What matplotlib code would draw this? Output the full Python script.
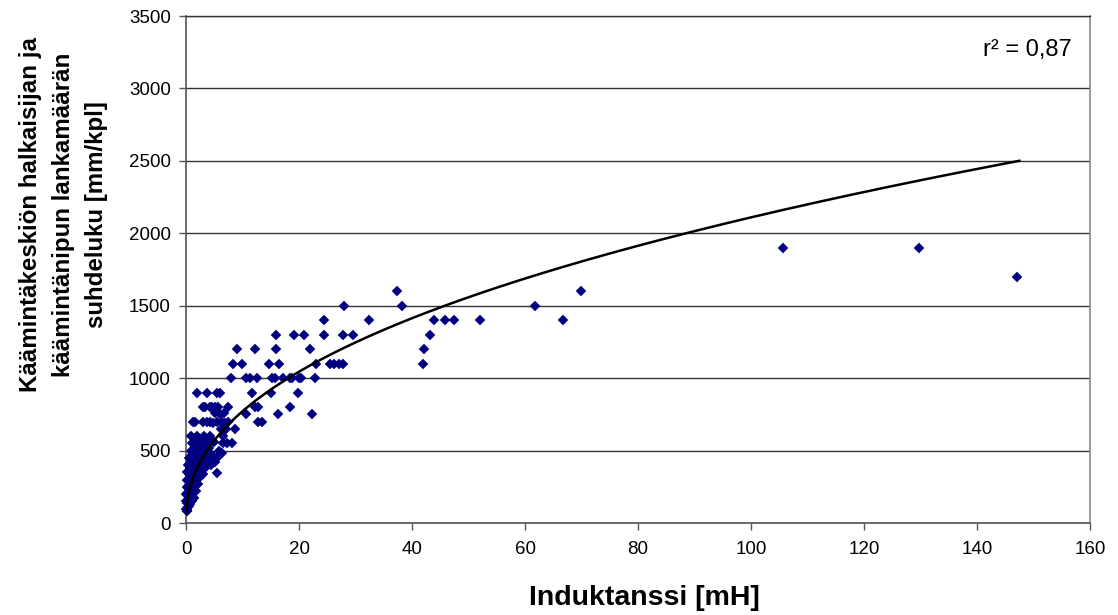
import numpy as np
import matplotlib
matplotlib.use("Agg")
import matplotlib.pyplot as plt

# ---- data ----
x_vals = [
    # far points
    105.7, 129.7, 147.1, 69.9, 61.8, 66.7, 52.0, 47.4, 45.8, 43.9, 43.2, 42.1, 41.9,
    38.2, 37.3, 32.4, 28.0, 24.5, 24.5, 27.8, 29.5, 20.8, 19.2, 21.9, 23.0, 25.5,
    26.2, 27.0, 27.7, 18.4, 20.0, 20.4, 22.8, 19.9, 18.4, 22.3,
    # mid points
    15.9, 9.0, 12.2, 15.9, 8.4, 9.9, 14.7, 16.5,
    8.0, 10.7, 11.3, 12.5, 15.2, 15.8, 17.2, 18.7,
    1.9, 3.8, 5.5, 6.0, 11.6, 15.0,
    3.4, 4.2, 5.7, 7.5, 12.3, 12.8, 3.0, 4.6, 5.2,
    10.7, 16.3, 5.1, 6.0, 6.8,
    1.6, 3.7, 5.4, 6.3, 12.8, 13.4, 1.2, 3.0, 4.2, 4.8, 7.4, 6.9,
    8.7, 7.0, 6.2,
    7.2, 8.1, 6.6, 6.5, 5.8, 6.3, 5.5, 5.2, 5.5,
    # dense cluster
    0.9, 1.5, 2.0, 2.6, 3.1, 3.7, 4.3, 5.0,
    1.0, 1.6, 2.3, 2.9, 3.5, 4.1,
    0.8, 1.3, 1.9, 2.5, 3.0, 3.6, 4.2, 4.8,
    0.5, 1.0, 1.5, 2.1, 2.7, 3.3, 3.9, 4.4,
    0.3, 0.7, 1.2, 1.7, 2.3, 2.9, 3.5,
    0.2, 0.5, 0.9, 1.4, 1.9, 2.5, 3.0,
    0.1, 0.3, 0.7, 1.1, 1.6, 2.1,
    0.1, 0.3, 0.6, 0.9, 1.3, 1.8,
    0.05, 0.2, 0.4, 0.7, 1.1, 1.5,
    0.05, 0.2, 0.4, 0.7, 1.0,
    0.05, 0.15, 0.3, 0.5, 0.1, 0.25,
]
y_vals = [
    1900, 1900, 1700, 1600, 1500, 1400, 1400, 1400, 1400, 1400, 1300, 1200, 1100,
    1500, 1600, 1400, 1500, 1400, 1300, 1300, 1300, 1300, 1300, 1200, 1100, 1100,
    1100, 1100, 1100, 1000, 1000, 1000, 1000, 900, 800, 750,
    1300, 1200, 1200, 1200, 1100, 1100, 1100, 1100,
    1000, 1000, 1000, 1000, 1000, 1000, 1000, 1000,
    900, 900, 900, 900, 900, 900,
    800, 800, 800, 800, 800, 800, 800, 800, 800,
    750, 750, 760, 750, 760,
    700, 700, 700, 700, 700, 700, 700, 700, 700, 690, 700, 690,
    650, 650, 650,
    550, 550, 550, 600, 500, 480, 450, 420, 345,
    600, 590, 600, 580, 600, 570, 600, 560,
    550, 540, 550, 530, 550, 520,
    500, 480, 500, 490, 470, 500, 480, 460,
    450, 440, 460, 430, 450, 420, 440, 400,
    400, 390, 410, 380, 400, 370, 390,
    350, 340, 360, 330, 350, 320, 340,
    300, 290, 310, 280, 300, 270,
    250, 240, 260, 230, 250, 220,
    200, 190, 210, 180, 200, 170,
    150, 140, 160, 130, 150,
    100, 90, 110, 120, 80, 85,
]

# power trend line y = a * x^b (coefficients)
trend_a = 282.0
trend_b = 0.437
trend_xmin = 0.04
trend_xmax = 147.5
r2_text = "r\u00b2 = 0,87"

x_ticks = [0, 20, 40, 60, 80, 100, 120, 140, 160]
y_ticks = [0, 500, 1000, 1500, 2000, 2500, 3000, 3500]

x_label = "Induktanssi [mH]"
y_label = "Käämintäkeskiön halkaisijan ja\nkäämintänipun lankamäärän\nsuhdeluku [mm/kpl]"

# ---- plotting ----
plt.rcParams['font.family'] = ['Liberation Sans', 'DejaVu Sans']

fig = plt.figure(figsize=(11.18, 6.15), dpi=100)
ax = fig.add_axes([186/1118, 1-523/615, (1090-186)/1118, (523-16)/615])

ax.set_xlim(0, 160)
ax.set_ylim(0, 3500)
ax.set_xticks(x_ticks)
ax.set_yticks(y_ticks)
ax.tick_params(axis='both', direction='out', length=5, width=1, colors='#555555',
               labelcolor='black', labelsize=13.5)
ax.tick_params(axis='x', pad=8)
ax.tick_params(axis='y', pad=6)

ax.yaxis.grid(True, color='#333333', linewidth=1.0)
ax.set_axisbelow(True)

for side in ['left', 'bottom']:
    ax.spines[side].set_color('#555555')
    ax.spines[side].set_linewidth(1.2)
ax.spines['right'].set_color('#888888')
ax.spines['right'].set_linewidth(1.2)
ax.spines['top'].set_color('#333333')
ax.spines['top'].set_linewidth(1.0)

ax.plot(x_vals, y_vals, linestyle='none', marker='D', markersize=5.6,
        markerfacecolor='#000080', markeredgecolor='#000080', markeredgewidth=0.3,
        zorder=3, clip_on=False)

xt = np.linspace(trend_xmin, trend_xmax, 600)
ax.plot(xt, trend_a * xt ** trend_b, color='black', linewidth=1.8, zorder=4)

ax.text(0.980, 0.933, r2_text, transform=ax.transAxes, ha='right', va='center',
        fontsize=17, color='black')

fig.text(644/1118, 1-598/615, x_label, ha='center', va='center',
         fontsize=20.5, fontweight='bold')
fig.text(63.5/1118, 1-215/615, y_label, ha='center', va='center', rotation=90,
         fontsize=17.4, fontweight='bold', linespacing=1.58, multialignment='center')

fig.savefig('out.png', dpi=100)
